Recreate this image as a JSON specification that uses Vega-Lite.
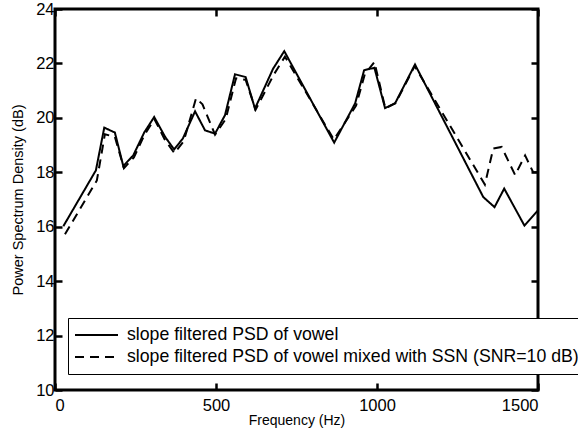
{
  "$schema": "https://vega.github.io/schema/vega-lite/v6.json",
  "autosize": {"type": "none"},
  "width": 483,
  "height": 381,
  "padding": {"left": 55, "top": 9, "right": 40, "bottom": 42},
  "background": "white",
  "config": {
    "view": {"stroke": "black", "strokeWidth": 3},
    "font": "Liberation Sans",
    "axis": {
      "grid": false,
      "domain": false,
      "labelColor": "black",
      "titleColor": "black",
      "labelFont": "Liberation Sans",
      "titleFont": "Liberation Sans",
      "titleFontWeight": "normal",
      "labelFontSize": 16.5,
      "titleFontSize": 14
    }
  },
  "data": {
    "values": [
      {"f": 26, "db": 16.02, "series": "slope filtered PSD of vowel"},
      {"f": 127, "db": 18.07, "series": "slope filtered PSD of vowel"},
      {"f": 153, "db": 19.64, "series": "slope filtered PSD of vowel"},
      {"f": 186, "db": 19.46, "series": "slope filtered PSD of vowel"},
      {"f": 212, "db": 18.23, "series": "slope filtered PSD of vowel"},
      {"f": 243, "db": 18.62, "series": "slope filtered PSD of vowel"},
      {"f": 277, "db": 19.46, "series": "slope filtered PSD of vowel"},
      {"f": 308, "db": 20.03, "series": "slope filtered PSD of vowel"},
      {"f": 342, "db": 19.3, "series": "slope filtered PSD of vowel"},
      {"f": 370, "db": 18.84, "series": "slope filtered PSD of vowel"},
      {"f": 397, "db": 19.24, "series": "slope filtered PSD of vowel"},
      {"f": 435, "db": 20.24, "series": "slope filtered PSD of vowel"},
      {"f": 466, "db": 19.54, "series": "slope filtered PSD of vowel"},
      {"f": 497, "db": 19.42, "series": "slope filtered PSD of vowel"},
      {"f": 528, "db": 20.1, "series": "slope filtered PSD of vowel"},
      {"f": 559, "db": 21.6, "series": "slope filtered PSD of vowel"},
      {"f": 592, "db": 21.5, "series": "slope filtered PSD of vowel"},
      {"f": 621, "db": 20.34, "series": "slope filtered PSD of vowel"},
      {"f": 677, "db": 21.8, "series": "slope filtered PSD of vowel"},
      {"f": 712, "db": 22.45, "series": "slope filtered PSD of vowel"},
      {"f": 867, "db": 19.09, "series": "slope filtered PSD of vowel"},
      {"f": 932, "db": 20.53, "series": "slope filtered PSD of vowel"},
      {"f": 960, "db": 21.75, "series": "slope filtered PSD of vowel"},
      {"f": 992, "db": 21.84, "series": "slope filtered PSD of vowel"},
      {"f": 1025, "db": 20.36, "series": "slope filtered PSD of vowel"},
      {"f": 1056, "db": 20.53, "series": "slope filtered PSD of vowel"},
      {"f": 1118, "db": 21.96, "series": "slope filtered PSD of vowel"},
      {"f": 1330, "db": 17.09, "series": "slope filtered PSD of vowel"},
      {"f": 1365, "db": 16.72, "series": "slope filtered PSD of vowel"},
      {"f": 1395, "db": 17.4, "series": "slope filtered PSD of vowel"},
      {"f": 1458, "db": 16.04, "series": "slope filtered PSD of vowel"},
      {"f": 1500, "db": 16.6, "series": "slope filtered PSD of vowel"},
      {"f": 31, "db": 15.72, "series": "slope filtered PSD of vowel mixed with SSN (SNR=10 dB)"},
      {"f": 130, "db": 17.7, "series": "slope filtered PSD of vowel mixed with SSN (SNR=10 dB)"},
      {"f": 155, "db": 19.4, "series": "slope filtered PSD of vowel mixed with SSN (SNR=10 dB)"},
      {"f": 186, "db": 19.3, "series": "slope filtered PSD of vowel mixed with SSN (SNR=10 dB)"},
      {"f": 214, "db": 18.15, "series": "slope filtered PSD of vowel mixed with SSN (SNR=10 dB)"},
      {"f": 245, "db": 18.55, "series": "slope filtered PSD of vowel mixed with SSN (SNR=10 dB)"},
      {"f": 279, "db": 19.4, "series": "slope filtered PSD of vowel mixed with SSN (SNR=10 dB)"},
      {"f": 309, "db": 19.95, "series": "slope filtered PSD of vowel mixed with SSN (SNR=10 dB)"},
      {"f": 341, "db": 19.2, "series": "slope filtered PSD of vowel mixed with SSN (SNR=10 dB)"},
      {"f": 371, "db": 18.7, "series": "slope filtered PSD of vowel mixed with SSN (SNR=10 dB)"},
      {"f": 400, "db": 19.15, "series": "slope filtered PSD of vowel mixed with SSN (SNR=10 dB)"},
      {"f": 438, "db": 20.72, "series": "slope filtered PSD of vowel mixed with SSN (SNR=10 dB)"},
      {"f": 458, "db": 20.5, "series": "slope filtered PSD of vowel mixed with SSN (SNR=10 dB)"},
      {"f": 497, "db": 19.38, "series": "slope filtered PSD of vowel mixed with SSN (SNR=10 dB)"},
      {"f": 530, "db": 19.95, "series": "slope filtered PSD of vowel mixed with SSN (SNR=10 dB)"},
      {"f": 562, "db": 21.45, "series": "slope filtered PSD of vowel mixed with SSN (SNR=10 dB)"},
      {"f": 592, "db": 21.4, "series": "slope filtered PSD of vowel mixed with SSN (SNR=10 dB)"},
      {"f": 623, "db": 20.3, "series": "slope filtered PSD of vowel mixed with SSN (SNR=10 dB)"},
      {"f": 680, "db": 21.6, "series": "slope filtered PSD of vowel mixed with SSN (SNR=10 dB)"},
      {"f": 714, "db": 22.25, "series": "slope filtered PSD of vowel mixed with SSN (SNR=10 dB)"},
      {"f": 866, "db": 19.2, "series": "slope filtered PSD of vowel mixed with SSN (SNR=10 dB)"},
      {"f": 935, "db": 20.45, "series": "slope filtered PSD of vowel mixed with SSN (SNR=10 dB)"},
      {"f": 962, "db": 21.6, "series": "slope filtered PSD of vowel mixed with SSN (SNR=10 dB)"},
      {"f": 992, "db": 22.05, "series": "slope filtered PSD of vowel mixed with SSN (SNR=10 dB)"},
      {"f": 1026, "db": 20.35, "series": "slope filtered PSD of vowel mixed with SSN (SNR=10 dB)"},
      {"f": 1058, "db": 20.55, "series": "slope filtered PSD of vowel mixed with SSN (SNR=10 dB)"},
      {"f": 1117, "db": 21.9, "series": "slope filtered PSD of vowel mixed with SSN (SNR=10 dB)"},
      {"f": 1335, "db": 17.55, "series": "slope filtered PSD of vowel mixed with SSN (SNR=10 dB)"},
      {"f": 1361, "db": 18.87, "series": "slope filtered PSD of vowel mixed with SSN (SNR=10 dB)"},
      {"f": 1387, "db": 18.93, "series": "slope filtered PSD of vowel mixed with SSN (SNR=10 dB)"},
      {"f": 1429, "db": 17.9, "series": "slope filtered PSD of vowel mixed with SSN (SNR=10 dB)"},
      {"f": 1460, "db": 18.62, "series": "slope filtered PSD of vowel mixed with SSN (SNR=10 dB)"},
      {"f": 1485, "db": 18.0, "series": "slope filtered PSD of vowel mixed with SSN (SNR=10 dB)"},
      {"f": 1500, "db": 18.0, "series": "slope filtered PSD of vowel mixed with SSN (SNR=10 dB)"}
    ]
  },
  "resolve": {"axis": {"x": "independent", "y": "independent"}},
  "layer": [
    {
      "transform": [{"filter": "datum.series == 'slope filtered PSD of vowel'"}],
      "mark": {"type": "line", "color": "black", "strokeWidth": 2},
      "encoding": {
        "x": {"field": "f", "type": "quantitative", "scale": {"domain": [0, 1500], "nice": false, "zero": false},
          "axis": {"orient": "bottom", "values": [0, 500, 1000, 1500], "format": "d", "title": "Frequency (Hz)", "offset": -7, "tickSize": 7, "tickColor": "black", "tickWidth": 2.5, "labelPadding": 7, "titlePadding": 0}},
        "y": {"field": "db", "type": "quantitative", "scale": {"domain": [10, 24], "nice": false, "zero": false},
          "axis": {"orient": "left", "values": [10, 12, 14, 16, 18, 20, 22, 24], "title": "Power Spectrum Density (dB)", "titleFontSize": 14.5, "offset": -7, "tickSize": 7, "tickColor": "black", "tickWidth": 2.5, "labelPadding": 1, "titlePadding": 10}},
        "strokeDash": {"field": "series", "type": "nominal",
          "scale": {"domain": ["slope filtered PSD of vowel", "slope filtered PSD of vowel mixed with SSN (SNR=10 dB)"], "range": [[1, 0], [9, 6]]},
          "legend": {"orient": "none", "legendX": 13, "legendY": 309, "title": null, "symbolType": "stroke", "symbolSize": 1849, "symbolStrokeWidth": 2, "symbolStrokeColor": "black", "labelFontSize": 17.7, "labelFont": "Liberation Sans", "labelColor": "black", "strokeColor": "black", "fillColor": "white", "padding": 6, "rowPadding": 0, "clipHeight": 22, "labelOffset": 8, "labelLimit": 800}}
      }
    },
    {
      "transform": [{"filter": "datum.series != 'slope filtered PSD of vowel'"}],
      "mark": {"type": "line", "color": "black", "strokeWidth": 2},
      "encoding": {
        "x": {"field": "f", "type": "quantitative", "axis": {"orient": "top", "values": [0, 500, 1000, 1500], "labels": false, "title": null, "offset": -7, "tickSize": 7, "tickColor": "black", "tickWidth": 2.5}},
        "y": {"field": "db", "type": "quantitative", "axis": {"orient": "right", "values": [10, 12, 14, 16, 18, 20, 22, 24], "labels": false, "title": null, "offset": -7, "tickSize": 7, "tickColor": "black", "tickWidth": 2.5}},
        "strokeDash": {"field": "series", "type": "nominal"}
      }
    }
  ]
}
